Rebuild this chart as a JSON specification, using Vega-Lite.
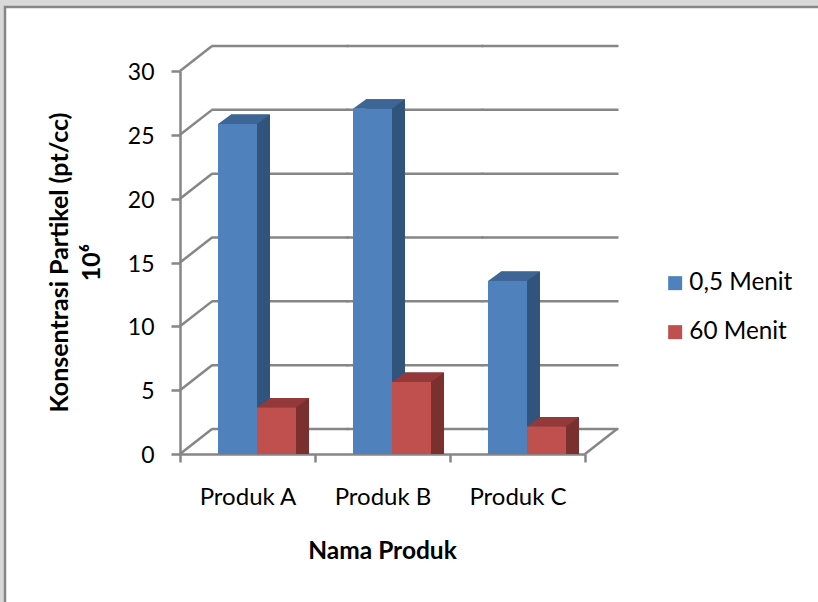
{
  "$schema": "https://vega.github.io/schema/vega-lite/v6.json",
  "autosize": "none",
  "width": 830,
  "height": 615,
  "padding": {"left": 5, "top": 7, "right": -17, "bottom": -20},
  "background": "#d9d9d9",
  "view": {"fill": "#ffffff", "stroke": "#868686", "strokeWidth": 2.5},
  "datasets": {
    "batang": [
      {"produk": "Produk A", "seri": "0,5 Menit", "nilai": 25.3},
      {"produk": "Produk A", "seri": "60 Menit", "nilai": 3.1},
      {"produk": "Produk B", "seri": "0,5 Menit", "nilai": 26.5},
      {"produk": "Produk B", "seri": "60 Menit", "nilai": 5.1},
      {"produk": "Produk C", "seri": "0,5 Menit", "nilai": 13},
      {"produk": "Produk C", "seri": "60 Menit", "nilai": 1.6}
    ],
    "kisi": [
      {"produk": "Produk A", "nilai": 0}, {"produk": "Produk B", "nilai": 0}, {"produk": "Produk C", "nilai": 0},
      {"produk": "Produk A", "nilai": 5}, {"produk": "Produk B", "nilai": 5}, {"produk": "Produk C", "nilai": 5},
      {"produk": "Produk A", "nilai": 10}, {"produk": "Produk B", "nilai": 10}, {"produk": "Produk C", "nilai": 10},
      {"produk": "Produk A", "nilai": 15}, {"produk": "Produk B", "nilai": 15}, {"produk": "Produk C", "nilai": 15},
      {"produk": "Produk A", "nilai": 20}, {"produk": "Produk B", "nilai": 20}, {"produk": "Produk C", "nilai": 20},
      {"produk": "Produk A", "nilai": 25}, {"produk": "Produk B", "nilai": 25}, {"produk": "Produk C", "nilai": 25},
      {"produk": "Produk A", "nilai": 30}, {"produk": "Produk B", "nilai": 30}, {"produk": "Produk C", "nilai": 30}
    ]
  },
  "encoding": {
    "x": {
      "field": "produk",
      "type": "nominal",
      "scale": {"domain": ["Produk A", "Produk B", "Produk C"], "range": [175, 580], "paddingInner": 0, "paddingOuter": 0},
      "axis": {
        "orient": "bottom",
        "offset": -168,
        "tickBand": "extent",
        "labelAngle": 0,
        "labelFont": "Lato",
        "labelFontSize": 24,
        "labelColor": "#000000",
        "labelPadding": 23,
        "tickSize": 8,
        "tickWidth": 2.5,
        "tickColor": "#868686",
        "domainColor": "#868686",
        "domainWidth": 2.5,
        "title": "Nama Produk",
        "titleFont": "Lato",
        "titleFontSize": 24.5,
        "titleFontWeight": "bold",
        "titleColor": "#000000",
        "titleX": 377,
        "titleY": 85
      }
    },
    "y": {
      "field": "nilai",
      "type": "quantitative",
      "stack": false,
      "scale": {"domain": [0, 30], "range": [447, 64], "nice": false},
      "axis": {
        "orient": "left",
        "offset": -175,
        "values": [0, 5, 10, 15, 20, 25, 30],
        "grid": false,
        "labelFont": "Lato",
        "labelFontSize": 23,
        "labelColor": "#000000",
        "labelPadding": 17,
        "labelOffset": 1.5,
        "tickSize": 9,
        "tickWidth": 2.5,
        "tickColor": "#868686",
        "domainColor": "#868686",
        "domainWidth": 2.5,
        "title": ["Konsentrasi Partikel (pt/cc)", "10⁶"],
        "titleFont": "Lato",
        "titleFontSize": 25,
        "titleFontWeight": "bold",
        "titleColor": "#000000",
        "titleLineHeight": 32,
        "titleX": -108,
        "titleY": 255
      }
    }
  },
  "layer": [
    {
      "description": "Back wall gridlines and floor edge",
      "data": {"name": "kisi"},
      "mark": {"type": "tick", "size": 137, "thickness": 2.5, "color": "#868686", "opacity": 1, "xOffset": 32.5, "yOffset": -25}
    },
    {
      "description": "Side wall diagonals from each axis tick",
      "data": {"name": "kisi"},
      "transform": [{"filter": "datum.produk === 'Produk A'"}],
      "mark": {"type": "point", "shape": "M0 0L1 -0.78", "size": 4096, "filled": false, "stroke": "#868686", "strokeWidth": 2.5, "opacity": 1},
      "encoding": {"x": {"field": "produk", "type": "nominal", "bandPosition": 0}}
    },
    {
      "description": "Floor diagonal on the right",
      "data": {"name": "kisi"},
      "transform": [{"filter": "datum.produk === 'Produk C' && datum.nilai === 0"}],
      "mark": {"type": "point", "shape": "M0 0L1 -0.78", "size": 4096, "filled": false, "stroke": "#868686", "strokeWidth": 2.5, "opacity": 1},
      "encoding": {"x": {"field": "produk", "type": "nominal", "bandPosition": 1}}
    },
    {
      "description": "Extruded back of each bar, seen as its side face",
      "data": {"name": "batang"},
      "mark": {"type": "bar", "yOffset": -16.5, "y2Offset": -16.5},
      "encoding": {
        "xOffset": {"field": "seri", "type": "nominal", "scale": {"type": "band", "paddingInner": 0, "paddingOuter": 0.73, "align": 0.895}},
        "color": {"field": "seri", "type": "nominal", "legend": null, "scale": {"domain": ["0,5 Menit", "60 Menit"], "range": ["#31547c", "#7b3030"]}}
      }
    },
    {
      "description": "Lower corner of the side face",
      "data": {"name": "batang"},
      "mark": {"type": "point", "shape": "M0.4875 0L0.4875 -0.2375L0.8125 -0.2375Z", "size": 6400, "filled": true, "opacity": 1, "yOffset": -7},
      "encoding": {
        "y": {"datum": 0},
        "xOffset": {"field": "seri", "type": "nominal", "scale": {"type": "band", "paddingInner": 0, "paddingOuter": 0.73, "align": 0.667}},
        "color": {"field": "seri", "type": "nominal", "legend": null, "scale": {"domain": ["0,5 Menit", "60 Menit"], "range": ["#31547c", "#7b3030"]}}
      }
    },
    {
      "description": "Top face of each bar",
      "data": {"name": "batang"},
      "mark": {"type": "point", "shape": "M-0.4875 0L-0.1625 -0.2375L0.8125 -0.2375L0.4875 0Z", "size": 6400, "filled": true, "opacity": 1, "yOffset": -7},
      "encoding": {
        "xOffset": {"field": "seri", "type": "nominal", "scale": {"type": "band", "paddingInner": 0, "paddingOuter": 0.73, "align": 0.667}},
        "color": {"field": "seri", "type": "nominal", "legend": null, "scale": {"domain": ["0,5 Menit", "60 Menit"], "range": ["#3d6596", "#93393a"]}}
      }
    },
    {
      "description": "Front face of each bar, carrying the legend",
      "data": {"name": "batang"},
      "mark": {"type": "bar", "yOffset": -7, "y2Offset": -7},
      "encoding": {
        "xOffset": {"field": "seri", "type": "nominal", "scale": {"type": "band", "paddingInner": 0, "paddingOuter": 0.73, "align": 0.667}},
        "color": {
          "field": "seri",
          "type": "nominal",
          "scale": {"domain": ["0,5 Menit", "60 Menit"], "range": ["#4f81bd", "#c0504d"]},
          "legend": {
            "orient": "none",
            "legendX": 658,
            "legendY": 264,
            "title": null,
            "symbolType": "square",
            "symbolSize": 196,
            "symbolStrokeWidth": 0,
            "symbolOpacity": 1,
            "labelFont": "Lato",
            "labelFontSize": 24.3,
            "labelColor": "#000000",
            "labelOffset": 2,
            "rowPadding": 24,
            "padding": 0
          }
        }
      }
    }
  ],
  "resolve": {"scale": {"color": "independent", "xOffset": "independent"}}
}
